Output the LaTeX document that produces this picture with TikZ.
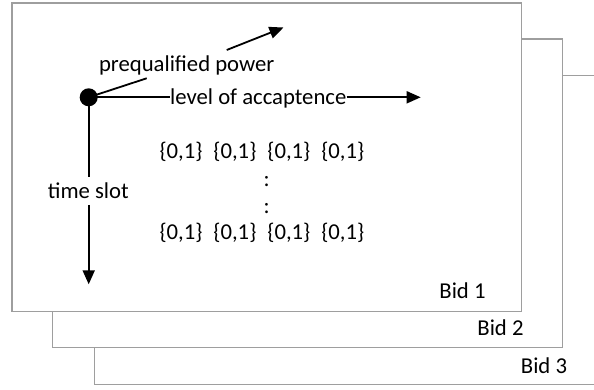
\documentclass[tikz,border=0pt]{standalone}
\usepackage{fontspec}
\setmainfont{Carlito}
\usetikzlibrary{arrows.meta}
\begin{document}
\begin{tikzpicture}[x=1pt,y=-1pt,
  sheet/.style={draw=black!38,line width=1.1pt,fill=white},
  lbl/.style={inner sep=0pt,anchor=base,font=\fontsize{22.7}{27}\selectfont},
  axis/.style={line width=1.8pt,-{Triangle[length=14pt,width=12pt]}},
  plain/.style={line width=1.8pt}]
\useasboundingbox (0,0) rectangle (594,390);
% stacked bid sheets, back to front
\draw[sheet] (94.7,75.3) rectangle (620,384.3);
\draw[sheet] (52.7,39) rectangle (562.7,347.7);
\draw[sheet] (12,3) rectangle (521.3,311.7);
\node[lbl] (bid3) at (544,373) {Bid 3};
\node[lbl] (bid2) at (500.5,335.7) {Bid 2};
\node[lbl] (bid1) at (462.5,298.3) {Bid 1};
% origin of the axes
\node[circle,fill=black,minimum size=18pt,inner sep=0pt] (o) at (88.7,97.3) {};
% level of acceptance axis
\node[lbl,anchor=base west] (lev) at (170,105) {level of accaptence};
\coordinate (levend) at (420.7,97.3);
\draw[plain] (o.center) -- (o -| lev.west);
\draw[axis] (o -| lev.east) -- (levend);
% prequalified power axis
\node[lbl] (pq) at (186.7,71.7) {prequalified power};
\coordinate (pqa) at (146.7,78.3);
\coordinate (pqb) at (226.7,50);
\coordinate (pqend) at (283.5,27.5);
\draw[plain] (o.center) -- (pqa);
\draw[axis] (pqb) -- (pqend);
% time slot axis
\node[lbl] (ts) at (88.3,198.3) {time slot};
\coordinate (tsa) at (88.7,176.7);
\coordinate (tsb) at (88.7,205);
\coordinate (tsend) at (88.7,284.3);
\draw[plain] (o.center) -- (tsa);
\draw[axis] (tsb) -- (tsend);
% decision variables
\newcommand{\bidrow}{\{0,1\}\hspace{11pt}\{0,1\}\hspace{11pt}\{0,1\}\hspace{11pt}\{0,1\}}
\node[lbl,anchor=base west] (r1) at (159.3,158.3) {\bidrow};
\node[lbl] (d1) at (266.7,187) {:};
\node[lbl] (d2) at (266.7,213) {:};
\node[lbl,anchor=base west] (r2) at (159.3,240) {\bidrow};
\end{tikzpicture}
\end{document}
